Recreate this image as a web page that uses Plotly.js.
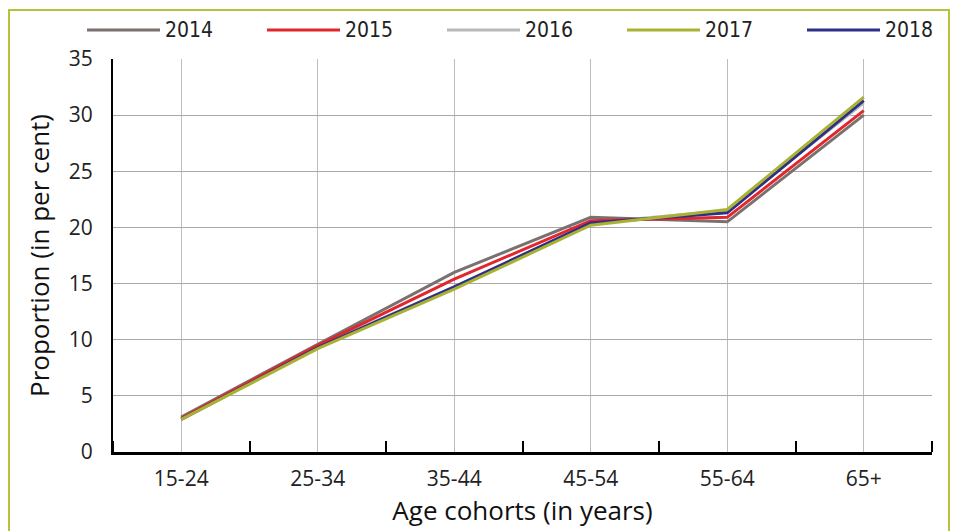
<!DOCTYPE html>
<html>
<head>
<meta charset="utf-8">
<script src="https://cdn.plot.ly/plotly-3.0.1.min.js"></script>
<style>
  html, body { margin: 0; padding: 0; background: #fff; }
  #wrap { position: relative; width: 959px; height: 531px; overflow: hidden; }
  #chart { width: 959px; height: 531px; }
  #frame { position: absolute; left: 8px; top: 9px; width: 942px; height: 540px;
           border: 2px solid #b6c23a; pointer-events: none; box-sizing: border-box; }
</style>
</head>
<body>
<div id="wrap"><div id="chart"></div><div id="frame"></div></div>
<script>
const categories = ["15-24", "25-34", "35-44", "45-54", "55-64", "65+"];
const seriesNames = ["2014", "2015", "2016", "2017", "2018"];
const v2014 = [3.1, 9.6, 16.0, 20.9, 20.5, 30.0];
const v2015 = [3.0, 9.5, 15.4, 20.6, 20.9, 30.4];
const v2016 = [3.0, 9.4, 14.7, 20.4, 21.5, 31.1];
const v2017 = [2.9, 9.2, 14.5, 20.2, 21.6, 31.6];
const v2018 = [2.9, 9.3, 14.7, 20.4, 21.3, 31.3];
const seriesValues = [v2014, v2015, v2016, v2017, v2018];
const colors = ["#7a716f", "#e1262d", "#b8b8b8", "#a9b233", "#2e2f88"];
const drawOrder = [2, 0, 1, 4, 3];

const xIdx = categories.map((c, i) => i);
const traces = drawOrder.map(i => ({
  type: "scatter", mode: "lines", name: seriesNames[i],
  x: xIdx, y: seriesValues[i],
  line: { color: colors[i], width: 3 },
  showlegend: false, hoverinfo: "skip"
}));

// plot area geometry (pixels) for the custom legend
const M = { l: 113, r: 27, t: 59, b: 79 };
const W = 959, H = 531;
const pw = W - M.l - M.r, ph = H - M.t - M.b;
const px = x => (x - M.l) / pw;
const py = y => (H - M.b - y) / ph;

const condensed = "Liberation Sans Narrow, Arial Narrow, DejaVu Sans Condensed, sans-serif";
const shapes = [];
const annotations = [];
seriesNames.forEach((n, i) => {
  const x0 = 87 + 180 * i;
  shapes.push({ type: "line", xref: "paper", yref: "paper",
    x0: px(x0), x1: px(x0 + 73), y0: py(30), y1: py(30),
    line: { color: colors[i], width: 3 } });
  annotations.push({ xref: "paper", yref: "paper", x: px(x0 + 76), y: py(30),
    xanchor: "left", yanchor: "middle", showarrow: false, text: n,
    font: { family: condensed, size: 21, color: "#222" } });
});

const boundaries = categories.map((c, i) => i - 0.5).concat([categories.length - 0.5]);

const layout = {
  width: W, height: H,
  margin: M,
  paper_bgcolor: "#fff", plot_bgcolor: "#fff",
  showlegend: false,
  xaxis: {
    range: [-0.5, categories.length - 0.5],
    tickmode: "array", tickvals: xIdx, ticktext: categories,
    ticks: "outside", ticklen: 6, tickcolor: "rgba(0,0,0,0)",
    showgrid: true, gridcolor: "#bdbdbd", gridwidth: 1,
    showline: true, linecolor: "#000", linewidth: 3,
    zeroline: false,
    tickfont: { family: "Open Sans, sans-serif", size: 21, color: "#222" },
    minor: { tickmode: "array", tickvals: boundaries, ticks: "inside", ticklen: 11, tickwidth: 2, tickcolor: "#000", showgrid: false },
    title: { text: "Age cohorts (in years)", standoff: 8,
      font: { family: "Open Sans, sans-serif", size: 26, color: "#111" } },
    fixedrange: true
  },
  yaxis: {
    range: [0, 35], dtick: 5, tick0: 0,
    ticks: "outside", ticklen: 14, tickcolor: "rgba(0,0,0,0)",
    showgrid: true, gridcolor: "#a8a8a8", gridwidth: 1,
    showline: true, linecolor: "#000", linewidth: 2,
    zeroline: false,
    tickfont: { family: "Open Sans, sans-serif", size: 21, color: "#222" },
    title: { text: "Proportion (in per cent)", standoff: 12,
      font: { family: "Open Sans, sans-serif", size: 26, color: "#111" } },
    fixedrange: true
  },
  shapes: shapes,
  annotations: annotations
};

Plotly.newPlot("chart", traces, layout, { staticPlot: true, displayModeBar: false });
</script>
</body>
</html>
